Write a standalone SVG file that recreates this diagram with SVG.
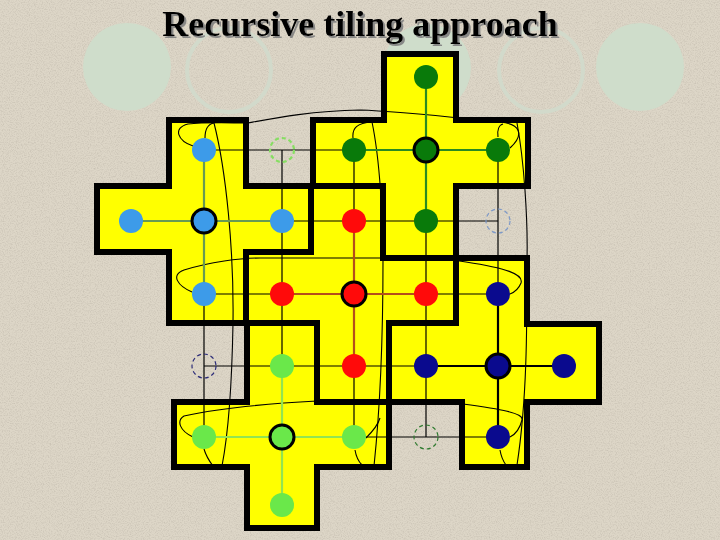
<svg xmlns="http://www.w3.org/2000/svg" xmlns:xlink="http://www.w3.org/1999/xlink" width="720" height="540" viewBox="0 0 720 540">
<defs>
<filter id="grain" x="0" y="0" width="100%" height="100%">
<feTurbulence type="fractalNoise" baseFrequency="0.85" numOctaves="2" seed="7" result="n"/>
<feColorMatrix in="n" type="matrix" values="0 0 0 0 0.42  0 0 0 0 0.38  0 0 0 0 0.32  0.9 0 0 0 -0.38"/>
</filter>
<filter id="shadow" x="-5%" y="-20%" width="110%" height="140%">
<feDropShadow dx="2" dy="2" stdDeviation="0.4" flood-color="#7f7f7f" flood-opacity="0.9"/>
</filter>
<polygon id="tBlue" points="169,120 246,120 246,186 311,186 311,252 246,252 246,323 169,323 169,252 97,252 97,186 169,186"/>
<polygon id="tGreen" points="384,54 456,54 456,120 528,120 528,186 456,186 456,258 383,258 383,186 313,186 313,120 384,120"/>
<polygon id="tRed" points="311,186 383,186 383,258 456,258 456,323 389,323 389,402 317,402 317,323 246,323 246,252 311,252"/>
<polygon id="tNavy" points="456,258 527,258 527,324 599,324 599,402 527,402 527,467 462,467 462,402 389,402 389,323 456,323"/>
<polygon id="tLight" points="247,323 317,323 317,402 389,402 389,467 317,467 317,528 247,528 247,467 174,467 174,402 247,402"/>
</defs>
<style>
.deco{fill:#cfddcb}
.decoO{fill:none;stroke:#d2dacb;stroke-width:4}
.title{font-family:"Liberation Serif","Times New Roman",serif;font-weight:bold;font-size:36px}
.fill{fill:#ffff00;stroke:none}
.edge{fill:none;stroke:#000;stroke-width:6;stroke-linejoin:miter}
.grid{stroke:#000;stroke-width:1.2;fill:none}
.curve{stroke:#000;stroke-width:1.1;fill:none}
.armB{stroke:#689a52;stroke-width:2.2}
.armG{stroke:#2a8a22;stroke-width:2.2}
.armR{stroke:#b44e1c;stroke-width:2.2}
.armN{stroke:#000;stroke-width:2.2}
.armL{stroke:#92e452;stroke-width:2.2}
.nb{fill:#3d9be9}
.ng{fill:#097a0a}
.nr{fill:#ff0a0a}
.nn{fill:#0a0a8e}
.nl{fill:#6ae84a}
.ctr{stroke:#000;stroke-width:3}
.dash{fill:none;stroke-dasharray:4 3}
</style>
<rect width="720" height="540" fill="#ddd6c7"/>
<rect width="720" height="540" filter="url(#grain)"/>
<g id="decoration">
<circle class="deco" cx="127" cy="67" r="44"/>
<circle class="decoO" cx="229" cy="70" r="42"/>
<circle class="deco" cx="427" cy="68" r="44"/>
<circle class="decoO" cx="541" cy="70" r="42"/>
<circle class="deco" cx="640" cy="67" r="44"/>
</g>
<g id="title">
<text class="title" x="360" y="36" text-anchor="middle" fill="#000" filter="url(#shadow)">Recursive tiling approach</text>
</g>
<g id="tiles">
<g id="tile-fills">
<use xlink:href="#tBlue" class="fill"/>
<use xlink:href="#tGreen" class="fill"/>
<use xlink:href="#tRed" class="fill"/>
<use xlink:href="#tNavy" class="fill"/>
<use xlink:href="#tLight" class="fill"/>
</g>
<g id="tile-edges">
<use xlink:href="#tBlue" class="edge"/>
<use xlink:href="#tGreen" class="edge"/>
<use xlink:href="#tRed" class="edge"/>
<use xlink:href="#tNavy" class="edge"/>
<use xlink:href="#tLight" class="edge"/>
</g>
</g>
<g id="curves">
<path class="curve" d="M193,146 C178,141 172,128 188,124 C205,122 230,123 248,123 C275,118 310,111 360,110 C395,111 440,116 500,122 C520,124 525,134 510,148"/>
<path class="curve" d="M205,138 C205,130 208,124 214,123"/>
<path class="curve" d="M498,137 C497,130 499,125 503,124"/>
<path class="curve" d="M214,123 C226,170 234,250 233,323 C232,380 229,430 222,466"/>
<path class="curve" d="M353,138 C352,128 357,123 372,122 C380,160 383,220 383,260 C383,330 381,400 374,466"/>
<path class="curve" d="M517,123 C524,160 528,220 527,260 C527,330 527,400 517,465"/>
<path class="curve" d="M192,292 C178,286 170,275 184,270 C210,262 240,258 260,258 L383,258 C420,258 448,259 466,262 C505,268 524,274 521,283 C519,288 515,292 510,294"/>
<path class="curve" d="M193,437 C180,431 176,421 184,416 C220,408 280,403 317,401 L463,404 C500,409 524,413 522,420 C520,428 516,434 510,437"/>
<path class="curve" d="M204,449 C206,456 210,462 213,466"/>
<path class="curve" d="M355,450 C356,456 358,461 362,465"/>
<path class="curve" d="M500,450 C501,456 503,461 506,465"/>
<path class="curve" d="M366,438 C372,432 378,425 380,418"/>
</g>
<g id="connectors">
<g id="grid">
<line class="grid" x1="204" y1="150" x2="498" y2="150"/>
<line class="grid" x1="204" y1="221" x2="498" y2="221"/>
<line class="grid" x1="204" y1="294" x2="498" y2="294"/>
<line class="grid" x1="204" y1="366" x2="564" y2="366"/>
<line class="grid" x1="204" y1="437" x2="498" y2="437"/>
<line class="grid" x1="204" y1="150" x2="204" y2="437"/>
<line class="grid" x1="282" y1="150" x2="282" y2="437"/>
<line class="grid" x1="354" y1="150" x2="354" y2="437"/>
<line class="grid" x1="426" y1="150" x2="426" y2="437"/>
<line class="grid" x1="498" y1="150" x2="498" y2="437"/>
</g>
<g id="arms">
<line class="armB" x1="131" y1="221" x2="282" y2="221"/>
<line class="armB" x1="204" y1="150" x2="204" y2="294"/>
<line class="armG" x1="354" y1="150" x2="498" y2="150"/>
<line class="armG" x1="426" y1="77" x2="426" y2="221"/>
<line class="armR" x1="282" y1="294" x2="426" y2="294"/>
<line class="armR" x1="354" y1="221" x2="354" y2="366"/>
<line class="armN" x1="426" y1="366" x2="564" y2="366"/>
<line class="armN" x1="498" y1="294" x2="498" y2="437"/>
<line class="armL" x1="204" y1="437" x2="354" y2="437"/>
<line class="armL" x1="282" y1="366" x2="282" y2="505"/>
</g>
</g>
<g id="nodes">
<g id="blue-top"><circle class="nb" cx="204" cy="150" r="12"/></g>
<g id="blue-left"><circle class="nb" cx="131" cy="221" r="12"/></g>
<g id="blue-center"><circle class="nb ctr" cx="204" cy="221" r="12"/></g>
<g id="blue-right"><circle class="nb" cx="282" cy="221" r="12"/></g>
<g id="blue-bottom"><circle class="nb" cx="204" cy="294" r="12"/></g>
<g id="blue-wrap"><circle class="dash" cx="498" cy="221" r="12" stroke="#7c98c8" stroke-width="1.2"/></g>
<g id="green-top"><circle class="ng" cx="426" cy="77" r="12"/></g>
<g id="green-left"><circle class="ng" cx="354" cy="150" r="12"/></g>
<g id="green-center"><circle class="ng ctr" cx="426" cy="150" r="12"/></g>
<g id="green-right"><circle class="ng" cx="498" cy="150" r="12"/></g>
<g id="green-bottom"><circle class="ng" cx="426" cy="221" r="12"/></g>
<g id="green-wrap"><circle class="dash" cx="426" cy="437" r="12" stroke="#2f7a2f" stroke-width="1.2"/></g>
<g id="red-top"><circle class="nr" cx="354" cy="221" r="12"/></g>
<g id="red-left"><circle class="nr" cx="282" cy="294" r="12"/></g>
<g id="red-center"><circle class="nr ctr" cx="354" cy="294" r="12"/></g>
<g id="red-right"><circle class="nr" cx="426" cy="294" r="12"/></g>
<g id="red-bottom"><circle class="nr" cx="354" cy="366" r="12"/></g>
<g id="navy-top"><circle class="nn" cx="498" cy="294" r="12"/></g>
<g id="navy-left"><circle class="nn" cx="426" cy="366" r="12"/></g>
<g id="navy-center"><circle class="nn ctr" cx="498" cy="366" r="12"/></g>
<g id="navy-right"><circle class="nn" cx="564" cy="366" r="12"/></g>
<g id="navy-bottom"><circle class="nn" cx="498" cy="437" r="12"/></g>
<g id="navy-wrap"><circle class="dash" cx="204" cy="366" r="12" stroke="#2b2b78" stroke-width="1.2"/></g>
<g id="light-top"><circle class="nl" cx="282" cy="366" r="12"/></g>
<g id="light-left"><circle class="nl" cx="204" cy="437" r="12"/></g>
<g id="light-center"><circle class="nl ctr" cx="282" cy="437" r="12"/></g>
<g id="light-right"><circle class="nl" cx="354" cy="437" r="12"/></g>
<g id="light-bottom"><circle class="nl" cx="282" cy="505" r="12"/></g>
<g id="light-wrap"><circle class="dash" cx="282" cy="150" r="12" stroke="#86de62" stroke-width="2.2" stroke-dasharray="6 4"/></g>
</g>
</svg>
